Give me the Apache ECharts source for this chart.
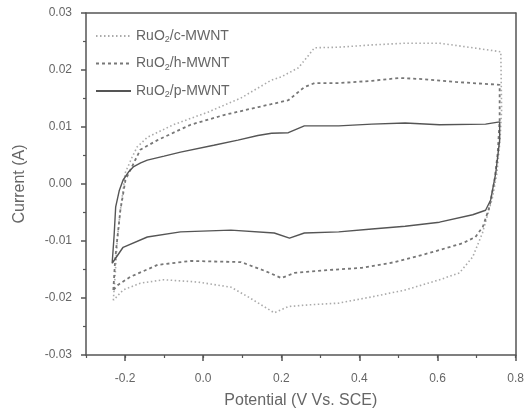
<!DOCTYPE html>
<html><head><meta charset="utf-8">
<script src="https://cdn.jsdelivr.net/npm/echarts@6/dist/echarts.min.js"></script>
<style>html,body{margin:0;padding:0;background:#fff}#c{width:527px;height:416px}</style>
</head><body><div id="c"></div>
<script>
const seriesNames = ['RuO2/c-MWNT', 'RuO2/h-MWNT', 'RuO2/p-MWNT'];
const xTickLabels = ['-0.2', '0.0', '0.2', '0.4', '0.6', '0.8'];
const yTickLabels = ['-0.03', '-0.02', '-0.01', '0.00', '0.01', '0.02', '0.03'];

// RuO2/c-MWNT (dotted)
const cX = [-0.230,-0.225,-0.220,-0.212,-0.205,-0.200,-0.182,-0.169,-0.143,-0.076,0.012,0.097,0.174,0.200,0.244,0.270,0.285,0.347,0.432,0.517,0.605,0.690,0.762,0.765,
            0.764,0.760,0.752,0.741,0.715,0.690,0.656,0.605,0.517,0.432,0.347,0.270,0.218,0.182,0.115,0.071,-0.014,-0.101,-0.161,-0.205,-0.230];
const cY = [-0.0204,-0.0156,-0.0098,-0.0046,-0.0011,0.0019,0.0047,0.0065,0.0082,0.0104,0.0126,0.0151,0.0182,0.0188,0.0204,0.0226,0.0239,0.0240,0.0244,0.0247,0.0247,0.0239,0.0232,0.0230,
            0.0130,0.0077,0.0019,-0.0023,-0.0086,-0.0128,-0.0156,-0.0168,-0.0186,-0.0198,-0.0209,-0.0212,-0.0215,-0.0226,-0.0198,-0.0181,-0.0172,-0.0168,-0.0174,-0.0186,-0.0204];

// RuO2/h-MWNT (dashed)
const hX = [-0.230,-0.226,-0.223,-0.212,-0.199,-0.179,-0.161,-0.117,-0.032,0.053,0.141,0.174,0.218,0.259,0.285,0.347,0.432,0.502,0.561,0.646,0.759,0.762,
            0.759,0.754,0.746,0.733,0.716,0.697,0.664,0.579,0.491,0.406,0.321,0.234,0.200,0.160,0.097,-0.032,-0.117,-0.187,-0.218,-0.230];
const hY = [-0.0186,-0.0140,-0.0116,-0.0046,0.0007,0.0035,0.0060,0.0077,0.0104,0.0121,0.0135,0.0140,0.0147,0.0170,0.0177,0.0177,0.0181,0.0186,0.0184,0.0179,0.0174,0.0177,
            0.0112,0.0054,0.0007,-0.0040,-0.0075,-0.0093,-0.0104,-0.0121,-0.0137,-0.0147,-0.0151,-0.0156,-0.0165,-0.0153,-0.0137,-0.0135,-0.0142,-0.0163,-0.0177,-0.0186];

// RuO2/p-MWNT (solid)
const pX = [-0.233,-0.228,-0.224,-0.215,-0.205,-0.190,-0.179,-0.160,-0.143,-0.100,-0.058,0.027,0.089,0.140,0.175,0.218,0.259,0.347,0.432,0.517,0.605,0.723,0.759,0.762,
            0.759,0.749,0.736,0.723,0.690,0.605,0.517,0.432,0.347,0.259,0.221,0.182,0.071,-0.058,-0.143,-0.205,-0.233];
const pY = [-0.0139,-0.0090,-0.0040,-0.0012,0.0007,0.0022,0.0030,0.0037,0.0042,0.0049,0.0056,0.0068,0.0077,0.0085,0.0089,0.0090,0.0102,0.0102,0.0105,0.0107,0.0104,0.0105,0.0109,0.0107,
            0.0077,0.0019,-0.0028,-0.0046,-0.0054,-0.0067,-0.0074,-0.0079,-0.0084,-0.0086,-0.0095,-0.0086,-0.0081,-0.0084,-0.0093,-0.0111,-0.0139];

const pairs = (xs, ys) => xs.map((x, i) => [x, ys[i]]);
const font = '"Liberation Sans", Arial, sans-serif';
const axisColor = '#555';
const textColor = '#666';

const chart = echarts.init(document.getElementById('c'), null, {renderer: 'canvas'});
chart.setOption({
  animation: false,
  backgroundColor: '#fff',
  textStyle: {fontFamily: font},
  grid: {left: 86, right: 11, top: 13, bottom: 61, containLabel: false},
  legend: {
    orient: 'vertical', left: 90, top: 24, itemWidth: 35, itemHeight: 14, itemGap: 12,
    data: seriesNames,
    itemStyle: {opacity: 0},
    formatter: n => n.replace('O2', 'O{s|2}'),
    textStyle: {fontFamily: font, fontSize: 14, color: textColor,
      rich: {s: {fontSize: 9, color: textColor, fontFamily: font, padding: [8, 0, 0, 0]}}}
  },
  xAxis: [
    {type: 'value', min: -0.3, max: 0.8, interval: 0.1, position: 'bottom',
     name: 'Potential (V Vs. SCE)', nameLocation: 'middle', nameGap: 38,
     nameTextStyle: {fontSize: 16, color: textColor, fontFamily: font},
     axisLine: {onZero: false, lineStyle: {color: axisColor, width: 1.5}},
     axisTick: {length: 3, lineStyle: {color: axisColor, width: 1.2}},
     axisLabel: {margin: 18, fontSize: 12, color: textColor, fontFamily: font,
       formatter: v => { const s = v.toFixed(1); return xTickLabels.includes(s) ? s : ''; }},
     splitLine: {show: false}},
    {type: 'value', min: -0.3, max: 0.8, position: 'bottom', gridIndex: 0,
     axisLine: {show: false, onZero: false},
     axisTick: {show: true, length: 6, customValues: xTickLabels.map(Number), lineStyle: {color: axisColor, width: 1.5}},
     axisLabel: {show: false}, splitLine: {show: false}},
    {type: 'value', min: -0.3, max: 0.8, position: 'top',
     axisLine: {show: true, onZero: false, lineStyle: {color: axisColor, width: 1.5}},
     axisTick: {show: false}, axisLabel: {show: false}, splitLine: {show: false}}
  ],
  yAxis: [
    {type: 'value', min: -0.03, max: 0.03, interval: 0.01, position: 'left',
     name: 'Current (A)', nameLocation: 'middle', nameGap: 58,
     nameTextStyle: {fontSize: 16, color: textColor, fontFamily: font},
     axisLine: {show: true, onZero: false, lineStyle: {color: axisColor, width: 1.5}},
     axisTick: {show: true, length: 5, lineStyle: {color: axisColor, width: 1.5}},
     minorTick: {show: true, splitNumber: 2, length: 3, lineStyle: {color: axisColor, width: 1.2}},
     axisLabel: {margin: 14, fontSize: 12, color: textColor, fontFamily: font,
       formatter: v => { const s = Math.abs(v) < 1e-9 ? '0.00' : v.toFixed(2); return yTickLabels.includes(s) ? s : ''; }},
     splitLine: {show: false}},
    {type: 'value', min: -0.03, max: 0.03, position: 'right',
     axisLine: {show: true, onZero: false, lineStyle: {color: axisColor, width: 1.5}},
     axisTick: {show: false}, axisLabel: {show: false}, splitLine: {show: false}}
  ],
  series: [
    {name: seriesNames[0], type: 'line', xAxisIndex: 0, yAxisIndex: 0, data: pairs(cX, cY),
     symbol: 'none', showSymbol: false, color: '#aaa',
     lineStyle: {color: '#aaa', width: 1.6, type: [1.5, 2.5]}},
    {name: seriesNames[1], type: 'line', xAxisIndex: 0, yAxisIndex: 0, data: pairs(hX, hY),
     symbol: 'none', showSymbol: false, color: '#777',
     lineStyle: {color: '#777', width: 1.8, type: [3, 3]}},
    {name: seriesNames[2], type: 'line', xAxisIndex: 0, yAxisIndex: 0, data: pairs(pX, pY),
     symbol: 'none', showSymbol: false, color: '#555',
     lineStyle: {color: '#555', width: 1.4, type: 'solid'}}
  ]
});
</script></body></html>
